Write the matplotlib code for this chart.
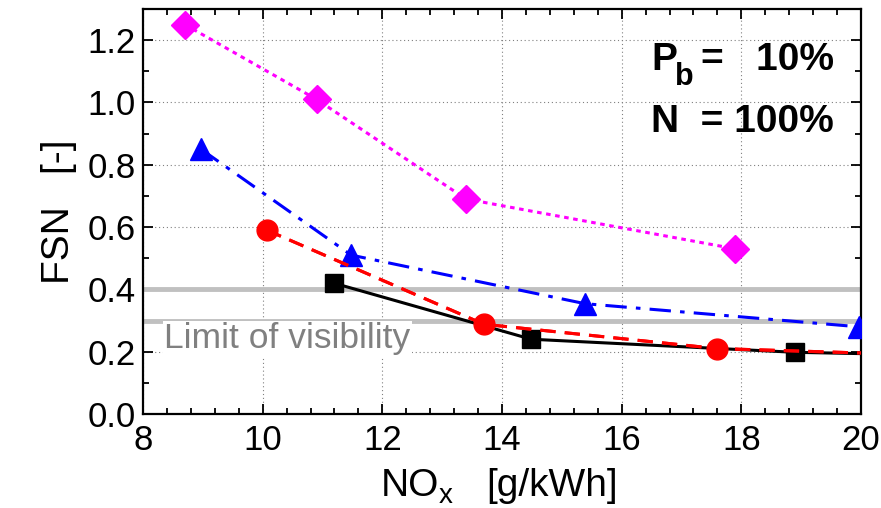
import matplotlib
matplotlib.use("Agg")
import matplotlib.pyplot as plt
from matplotlib.ticker import MultipleLocator, FormatStrFormatter

plt.rcParams['font.family'] = ['Liberation Sans', 'DejaVu Sans']

# data
mag_x = [8.7, 10.9, 13.4, 17.9]
mag_y = [1.25, 1.01, 0.69, 0.53]
blu_x = [8.97, 11.48, 15.39, 19.96]
blu_y = [0.85, 0.51, 0.354, 0.28]
red_x = [10.07, 13.70, 17.6, 21.0]
red_y = [0.59, 0.288, 0.21, 0.19]
blk_x = [11.19, 14.49, 18.9, 21.0]
blk_y = [0.42, 0.24, 0.198, 0.19]
limit_top = 0.4
limit_bot = 0.3

W, H = 881, 508
fig = plt.figure(figsize=(W/100, H/100), dpi=100)
ax = fig.add_axes([143/W, 1-414/H, (861-143)/W, (414-9)/H])
ax.set_xlim(8, 20)
ax.set_ylim(0, 1.3)

ax.xaxis.set_major_locator(MultipleLocator(2))
ax.xaxis.set_minor_locator(MultipleLocator(0.4))
ax.yaxis.set_major_locator(MultipleLocator(0.2))
ax.yaxis.set_minor_locator(MultipleLocator(0.1))
ax.tick_params(which='both', direction='in', top=True, right=True, width=1.3, labelsize=25)
ax.tick_params(which='major', length=7)
ax.tick_params(which='minor', length=4.5)
ax.tick_params(axis='x', pad=7)
ax.tick_params(axis='y', pad=5)
ax.yaxis.set_major_formatter(FormatStrFormatter('%.1f'))
for s in ax.spines.values():
    s.set_linewidth(1.6)

ax.grid(True, which='major', color='#808080', linestyle=(0, (1, 2.5)), linewidth=0.8, zorder=0)
ax.set_axisbelow(True)

ax.axhline(limit_top, color='#c0c0c0', lw=3.5, zorder=1)
ax.axhline(limit_bot, color='#c0c0c0', lw=3.5, zorder=1)
ax.text(10.41, 0.241, 'Limit of visibility', color='#808080', fontsize=25.5,
        ha='center', va='center', zorder=2,
        bbox=dict(facecolor='white', edgecolor='none', pad=1.0))

ax.plot(mag_x, mag_y, color='#ff00ff', lw=2.2, linestyle=(0, (1.5, 1.5)),
        marker='D', markersize=14, zorder=5)
ax.plot(blu_x, blu_y, color='#0000ff', lw=2.2, linestyle=(0, (7, 3, 1.5, 3)),
        marker='^', markersize=16, zorder=5)
ax.plot(red_x, red_y, color='#ff0000', lw=2.2, linestyle=(0, (5, 3)),
        marker='o', markersize=15, zorder=6)
ax.plot(blk_x, blk_y, color='black', lw=2.2, linestyle='-',
        marker='s', markersize=13, zorder=5)
ax.plot(red_x, red_y, color='#ff0000', lw=2.2, linestyle=(0, (5, 3)), zorder=6)

def ptext(x, y, s, **kw):
    fig.text(x/W, 1-y/H, s, va='baseline', ha='left', **kw)

# annotation P_b / N
ptext(651, 70, 'P', fontsize=28, fontweight='bold')
ptext(675, 85, 'b', fontsize=22, fontweight='bold')
ptext(701, 70, '=   10%', fontsize=28, fontweight='bold')
ptext(651, 132, 'N  = 100%', fontsize=28, fontweight='bold')

# x label
ptext(381, 496, 'NO', fontsize=28)
ptext(439, 503, 'x', fontsize=20)
ptext(486, 496, '[g/kWh]', fontsize=28)

ax.set_ylabel('FSN   [-]', fontsize=28, labelpad=8)

fig.savefig('out.png', dpi=100)
